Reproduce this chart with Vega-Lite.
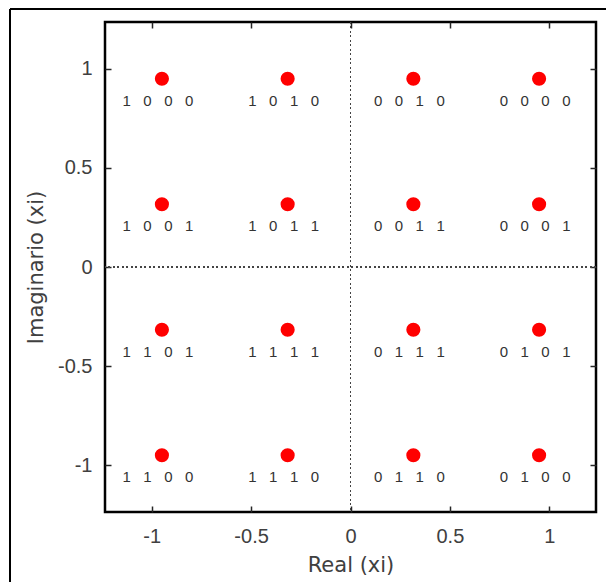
{
  "$schema": "https://vega.github.io/schema/vega-lite/v6.json",
  "width": 491,
  "height": 490,
  "autosize": {"type": "none"},
  "padding": {"left": 105, "top": 22, "right": 10, "bottom": 70},
  "background": "white",
  "config": {
    "view": {"stroke": "black", "strokeWidth": 2.5},
    "axis": {
      "grid": false,
      "domain": false,
      "tickColor": "#262626",
      "tickWidth": 1.5,
      "tickSize": -6,
      "labelFont": "Liberation Sans",
      "labelFontSize": 20,
      "labelColor": "#404040",
      "titleFont": "DejaVu Sans",
      "titleFontSize": 21,
      "titleFontWeight": "normal",
      "titleColor": "#404040"
    }
  },
  "data": {
    "values": [
      {"re": -0.9487, "im": 0.9487, "bits": "1\u00a0\u00a0\u00a00\u00a0\u00a0\u00a00\u00a0\u00a0\u00a00"},
      {"re": -0.3162, "im": 0.9487, "bits": "1\u00a0\u00a0\u00a00\u00a0\u00a0\u00a01\u00a0\u00a0\u00a00"},
      {"re": 0.3162, "im": 0.9487, "bits": "0\u00a0\u00a0\u00a00\u00a0\u00a0\u00a01\u00a0\u00a0\u00a00"},
      {"re": 0.9487, "im": 0.9487, "bits": "0\u00a0\u00a0\u00a00\u00a0\u00a0\u00a00\u00a0\u00a0\u00a00"},
      {"re": -0.9487, "im": 0.3162, "bits": "1\u00a0\u00a0\u00a00\u00a0\u00a0\u00a00\u00a0\u00a0\u00a01"},
      {"re": -0.3162, "im": 0.3162, "bits": "1\u00a0\u00a0\u00a00\u00a0\u00a0\u00a01\u00a0\u00a0\u00a01"},
      {"re": 0.3162, "im": 0.3162, "bits": "0\u00a0\u00a0\u00a00\u00a0\u00a0\u00a01\u00a0\u00a0\u00a01"},
      {"re": 0.9487, "im": 0.3162, "bits": "0\u00a0\u00a0\u00a00\u00a0\u00a0\u00a00\u00a0\u00a0\u00a01"},
      {"re": -0.9487, "im": -0.3162, "bits": "1\u00a0\u00a0\u00a01\u00a0\u00a0\u00a00\u00a0\u00a0\u00a01"},
      {"re": -0.3162, "im": -0.3162, "bits": "1\u00a0\u00a0\u00a01\u00a0\u00a0\u00a01\u00a0\u00a0\u00a01"},
      {"re": 0.3162, "im": -0.3162, "bits": "0\u00a0\u00a0\u00a01\u00a0\u00a0\u00a01\u00a0\u00a0\u00a01"},
      {"re": 0.9487, "im": -0.3162, "bits": "0\u00a0\u00a0\u00a01\u00a0\u00a0\u00a00\u00a0\u00a0\u00a01"},
      {"re": -0.9487, "im": -0.9487, "bits": "1\u00a0\u00a0\u00a01\u00a0\u00a0\u00a00\u00a0\u00a0\u00a00"},
      {"re": -0.3162, "im": -0.9487, "bits": "1\u00a0\u00a0\u00a01\u00a0\u00a0\u00a01\u00a0\u00a0\u00a00"},
      {"re": 0.3162, "im": -0.9487, "bits": "0\u00a0\u00a0\u00a01\u00a0\u00a0\u00a01\u00a0\u00a0\u00a00"},
      {"re": 0.9487, "im": -0.9487, "bits": "0\u00a0\u00a0\u00a01\u00a0\u00a0\u00a00\u00a0\u00a0\u00a00"}
    ]
  },
  "resolve": {"axis": {"x": "independent", "y": "independent"}},
  "layer": [
    {
      "mark": {"type": "point", "filled": true, "color": "#ff0000", "opacity": 1, "size": 200},
      "encoding": {
        "x": {
          "field": "re", "type": "quantitative",
          "scale": {"domain": [-1.235, 1.235], "nice": false, "zero": false},
          "axis": {
            "orient": "bottom", "title": "Real (xi)", "values": [-1, -0.5, 0, 0.5, 1],
            "labelPadding": 20, "titlePadding": 8,
            "labelExpr": "datum.value < 0 ? '-' + format(-datum.value, '~g') : format(datum.value, '~g')"
          }
        },
        "y": {
          "field": "im", "type": "quantitative",
          "scale": {"domain": [-1.235, 1.235], "nice": false, "zero": false},
          "axis": {
            "orient": "left", "title": "Imaginario (xi)", "values": [-1, -0.5, 0, 0.5, 1],
            "labelPadding": 19, "titlePadding": 11,
            "labelExpr": "datum.value < 0 ? '-' + format(-datum.value, '~g') : format(datum.value, '~g')"
          }
        }
      }
    },
    {
      "mark": {"type": "rule", "color": "#444444", "strokeDash": [1.5, 3], "strokeWidth": 1},
      "encoding": {"x": {"datum": 0, "type": "quantitative", "axis": null}}
    },
    {
      "mark": {"type": "rule", "color": "#444444", "strokeDash": [1.5, 3], "strokeWidth": 1},
      "encoding": {"y": {"datum": 0, "type": "quantitative", "axis": null}}
    },
    {
      "mark": {"type": "text", "align": "center", "baseline": "middle", "dx": -4, "dy": 22, "font": "Liberation Sans", "fontSize": 15, "color": "#333333"},
      "encoding": {
        "x": {"field": "re", "type": "quantitative", "axis": null},
        "y": {"field": "im", "type": "quantitative", "axis": null},
        "text": {"field": "bits", "type": "nominal"}
      }
    },
    {
      "mark": {"type": "point", "opacity": 0},
      "encoding": {
        "x": {"field": "re", "type": "quantitative", "axis": {"orient": "top", "labels": false, "title": null, "values": [-1, -0.5, 0, 0.5, 1]}},
        "y": {"field": "im", "type": "quantitative", "axis": {"orient": "right", "labels": false, "title": null, "values": [-1, -0.5, 0, 0.5, 1]}}
      }
    },
    {
      "mark": {"type": "rule", "color": "black", "strokeWidth": 1.5, "clip": false},
      "encoding": {
        "x": {"datum": -1.713, "type": "quantitative", "axis": null},
        "y": {"datum": 1.3, "type": "quantitative", "axis": null},
        "y2": {"datum": -1.7}
      }
    },
    {
      "mark": {"type": "rule", "color": "black", "strokeWidth": 1.5, "clip": false},
      "encoding": {
        "y": {"datum": 1.3, "type": "quantitative", "axis": null},
        "x": {"datum": -1.713, "type": "quantitative", "axis": null},
        "x2": {"datum": 1.8}
      }
    }
  ]
}
